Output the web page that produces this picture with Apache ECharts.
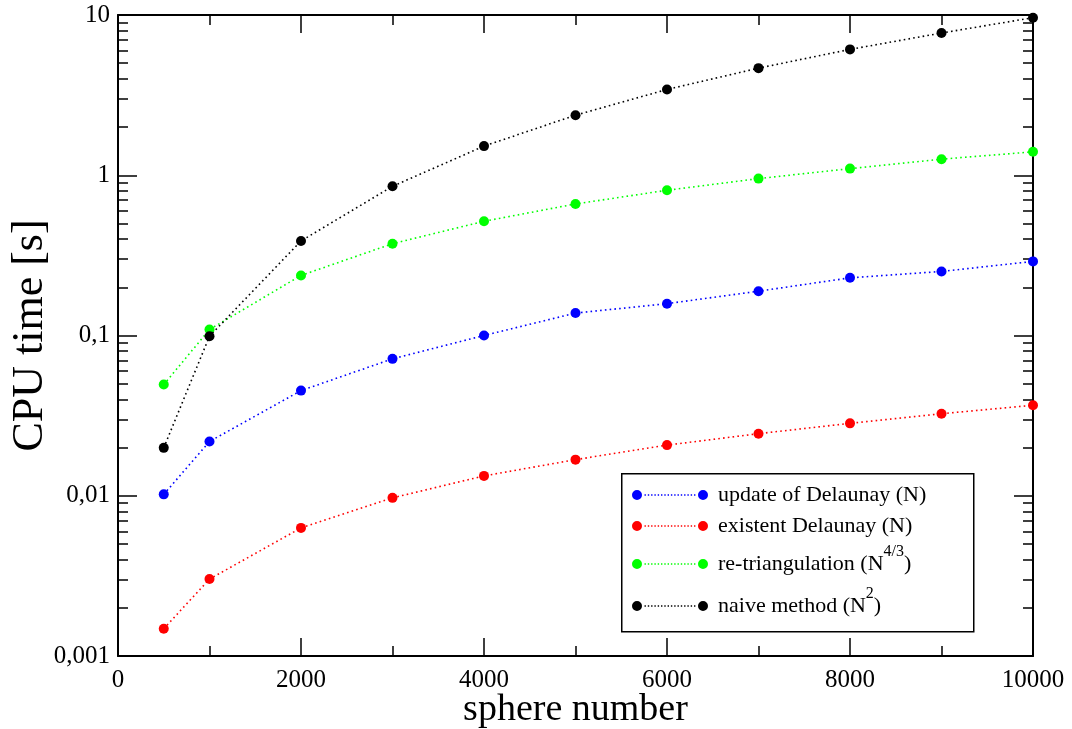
<!DOCTYPE html>
<html>
<head>
<meta charset="utf-8">
<script src="https://cdn.jsdelivr.net/npm/echarts@6/dist/echarts.min.js"></script>
<style>html,body{margin:0;padding:0;background:#fff;}#chart{width:1072px;height:729px;}</style>
</head>
<body>
<div id="chart"></div>
<script>
// ---- data ----
const sphereNumbers = [500, 1000, 2000, 3000, 4000, 5000, 6000, 7000, 8000, 9000, 10000];
const updateDelaunay = [0.0102, 0.0218, 0.0453, 0.0715, 0.100, 0.138, 0.158, 0.189, 0.229, 0.251, 0.290];
const existentDelaunay = [0.00148, 0.00302, 0.0063, 0.0097, 0.0133, 0.0168, 0.0207, 0.0244, 0.0283, 0.0325, 0.0367];
const retriangulation = [0.0494, 0.109, 0.237, 0.374, 0.516, 0.662, 0.806, 0.953, 1.10, 1.26, 1.40];
const naiveMethod = [0.0199, 0.099, 0.389, 0.853, 1.52, 2.37, 3.43, 4.66, 6.10, 7.72, 9.62];
const seriesNames = ['update of Delaunay (N)', 'existent Delaunay (N)', 're-triangulation (N^4/3)', 'naive method (N^2)'];
const legendRich = ['{n|update of Delaunay (N)}', '{n|existent Delaunay (N)}', '{n|re-triangulation (N}{s|4/3}{n|)}', '{n|naive method (N}{s|2}{n|)}'];
const seriesColors = ['#0000ff', '#ff0000', '#00ff00', '#000000'];
const yMajorTicks = [0.001, 0.01, 0.1, 1, 10];
const yTickLabels = ['0,001', '0,01', '0,1', '1', '10'];
const yMinorTicks = [];
for (let d = -3; d < 1; d++) { for (let m = 2; m <= 9; m++) { yMinorTicks.push(+(m * Math.pow(10, d)).toPrecision(3)); } }
const xTickLabels = ['0', '2000', '4000', '6000', '8000', '10000'];

// ---- build ----
const FONT = '"Liberation Serif", "Times New Roman", serif';
const allSeries = [updateDelaunay, existentDelaunay, retriangulation, naiveMethod];
const dash = [1.6, 3.2];

let iconP = 'path://M0,5A5,5 0 1,0 10,5A5,5 0 1,0 0,5Z M66,5A5,5 0 1,0 76,5A5,5 0 1,0 66,5Z';
for (let x = 12.5; x < 64; x += 3.3) {
  const a = x.toFixed(2), b = (x + 1.4).toFixed(2);
  iconP += ' M' + a + ',4.3L' + b + ',4.3L' + b + ',5.7L' + a + ',5.7Z';
}

const rowCenters = [494, 525, 564, 606];
const rowHalf = [10, 10, 20, 20];
const legends = seriesNames.map((name, i) => ({
  data: [{ name: name, icon: iconP }],
  left: 632, top: rowCenters[i] - rowHalf[i],
  padding: 0, itemWidth: 76, itemHeight: 10,
  selectedMode: false,
  formatter: () => legendRich[i],
  textStyle: {
    padding: [0, 0, 0, 5],
    rich: {
      n: { fontFamily: FONT, fontSize: 22, color: '#000', lineHeight: 42 },
      s: { fontFamily: FONT, fontSize: 16, color: '#000', lineHeight: 16, padding: [0, 0, 24, 0] }
    }
  }
}));

const axisLineStyle = { show: true, onZero: false, lineStyle: { color: '#000', width: 2 } };
const noAxisLine = { show: false, onZero: false };
const tickLine = { color: '#000', width: 1.5 };
const xBase = { type: 'value', min: 0, max: 10000, interval: 2000 };
const yBase = { type: 'log', logBase: 10, min: 0.001, max: 10 };
const gridRect = { left: 118, right: 39, top: 15, bottom: 73, containLabel: false, outerBoundsMode: 'none' };

const option = {
  animation: false,
  backgroundColor: '#fff',
  grid: [Object.assign({}, gridRect), Object.assign({}, gridRect)],
  graphic: [{
    type: 'rect', left: 621, top: 473, z: 1,
    shape: { width: 352, height: 158 },
    style: { fill: '#fff', stroke: '#000', lineWidth: 1.5 }
  }],
  legend: legends,
  xAxis: [
    Object.assign({}, xBase, {
      gridIndex: 0, position: 'bottom',
      name: 'sphere number', nameLocation: 'middle', nameGap: 35, nameMoveOverlap: false,
      nameTextStyle: { fontFamily: FONT, fontSize: 38, color: '#000' },
      axisLine: axisLineStyle,
      axisTick: { show: true, inside: true, length: 18, lineStyle: tickLine },
      minorTick: { show: true, splitNumber: 2, length: 10, lineStyle: tickLine },
      axisLabel: { show: true, margin: 12, fontFamily: FONT, fontSize: 25, color: '#000',
        formatter: (v) => xTickLabels[Math.round(v / 2000)] },
      splitLine: { show: false }
    }),
    Object.assign({}, xBase, {
      gridIndex: 0, position: 'top',
      axisLine: axisLineStyle,
      axisTick: { show: true, inside: true, length: 18, lineStyle: tickLine },
      minorTick: { show: true, splitNumber: 2, length: 10, lineStyle: tickLine },
      axisLabel: { show: false },
      splitLine: { show: false }
    }),
    Object.assign({}, xBase, { gridIndex: 1, show: false })
  ],
  yAxis: [
    Object.assign({}, yBase, {
      gridIndex: 0, position: 'left',
      name: 'CPU time [s]', nameLocation: 'middle', nameGap: 66, nameMoveOverlap: false,
      nameTextStyle: { fontFamily: FONT, fontSize: 44, color: '#000' },
      axisLine: axisLineStyle,
      axisTick: { show: true, inside: true, length: 19, customValues: yMajorTicks, lineStyle: tickLine },
      axisLabel: { show: true, margin: 8, fontFamily: FONT, fontSize: 25, color: '#000', customValues: yMajorTicks,
        formatter: (v) => yTickLabels[Math.round(Math.log10(v)) + 3] },
      splitLine: { show: false }
    }),
    Object.assign({}, yBase, {
      gridIndex: 0, position: 'right',
      axisLine: axisLineStyle,
      axisTick: { show: true, inside: true, length: 19, customValues: yMajorTicks, lineStyle: tickLine },
      axisLabel: { show: false },
      splitLine: { show: false }
    }),
    Object.assign({}, yBase, {
      gridIndex: 1, position: 'left',
      axisLine: noAxisLine,
      axisTick: { show: true, inside: true, length: 10, customValues: yMinorTicks, lineStyle: tickLine },
      axisLabel: { show: false },
      splitLine: { show: false }
    }),
    Object.assign({}, yBase, {
      gridIndex: 1, position: 'right',
      axisLine: noAxisLine,
      axisTick: { show: true, inside: true, length: 10, customValues: yMinorTicks, lineStyle: tickLine },
      axisLabel: { show: false },
      splitLine: { show: false }
    })
  ],
  series: seriesNames.map((name, i) => ({
    name: name,
    type: 'line',
    xAxisIndex: 0, yAxisIndex: 0,
    data: sphereNumbers.map((x, j) => [x, allSeries[i][j]]),
    symbol: 'circle', symbolSize: 10,
    showSymbol: true,
    clip: false,
    itemStyle: { color: seriesColors[i] },
    lineStyle: { color: seriesColors[i], width: 1.6, type: dash },
    emphasis: { disabled: true },
    z: 2 + i
  }))
};

const chart = echarts.init(document.getElementById('chart'), null, { renderer: 'canvas' });
chart.setOption(option);
</script>
</body>
</html>
